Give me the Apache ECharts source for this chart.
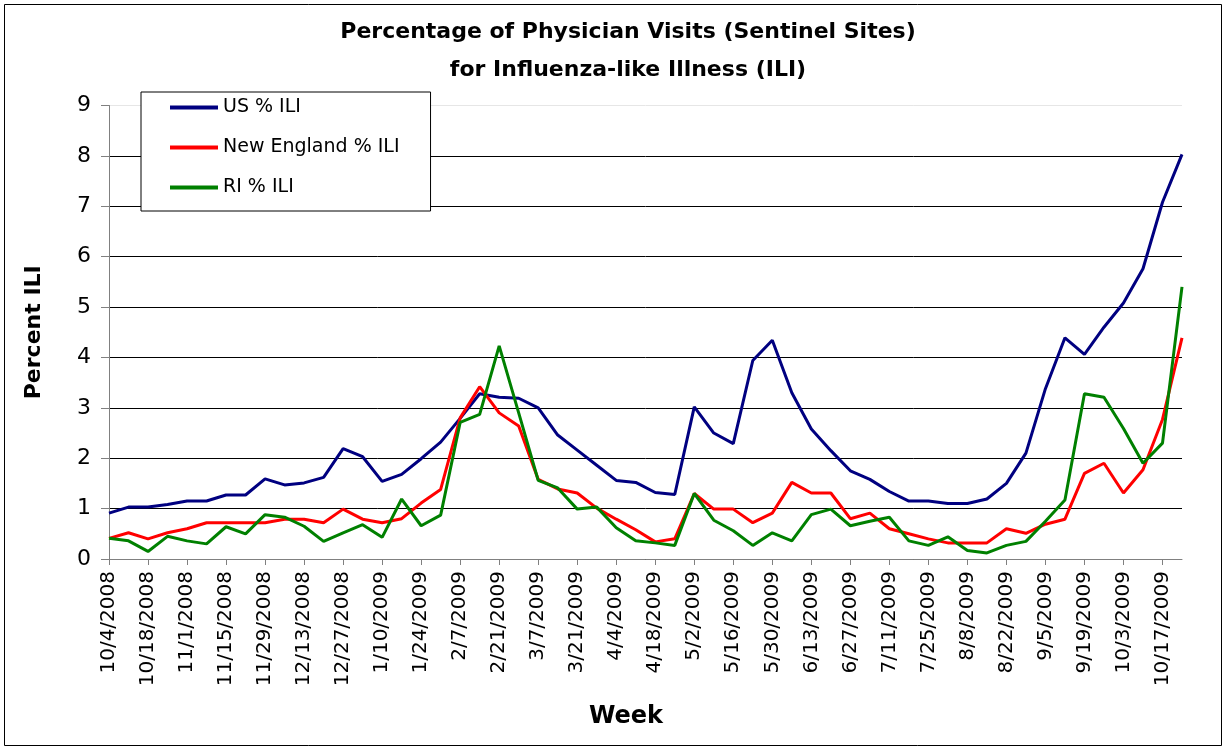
<!DOCTYPE html>
<html><head><meta charset="utf-8">
<script src="https://cdn.jsdelivr.net/npm/echarts@6/dist/echarts.min.js"></script>
<style>html,body{margin:0;padding:0;background:#fff}#c{width:1222px;height:746px}</style>
</head><body><div id="c"></div>
<script>
const weeks = ["10/4/2008","10/11/2008","10/18/2008","10/25/2008","11/1/2008","11/8/2008","11/15/2008","11/22/2008","11/29/2008","12/6/2008",
"12/13/2008","12/20/2008","12/27/2008","1/3/2009","1/10/2009","1/17/2009","1/24/2009","1/31/2009","2/7/2009","2/14/2009",
"2/21/2009","2/28/2009","3/7/2009","3/14/2009","3/21/2009","3/28/2009","4/4/2009","4/11/2009","4/18/2009","4/25/2009",
"5/2/2009","5/9/2009","5/16/2009","5/23/2009","5/30/2009","6/6/2009","6/13/2009","6/20/2009","6/27/2009","7/4/2009",
"7/11/2009","7/18/2009","7/25/2009","8/1/2009","8/8/2009","8/15/2009","8/22/2009","8/29/2009","9/5/2009","9/12/2009",
"9/19/2009","9/26/2009","10/3/2009","10/10/2009","10/17/2009","10/24/2009"];

const usILI = [0.91,1.03,1.03,1.08,1.15,1.15,1.27,1.27,1.59,1.47,
1.51,1.62,2.19,2.03,1.54,1.68,1.99,2.32,2.79,3.28,
3.21,3.19,3.00,2.46,2.16,1.86,1.56,1.52,1.32,1.28,
3.02,2.50,2.29,3.94,4.34,3.30,2.58,2.15,1.75,1.58,
1.34,1.15,1.15,1.10,1.10,1.19,1.50,2.10,3.38,4.39,
4.06,4.60,5.08,5.76,7.08,8.03];

const newEnglandILI = [0.41,0.52,0.40,0.52,0.60,0.72,0.72,0.72,0.72,0.79,
0.79,0.72,0.99,0.79,0.72,0.80,1.11,1.38,2.80,3.42,
2.90,2.64,1.58,1.39,1.31,1.01,0.79,0.58,0.34,0.40,
1.30,0.99,0.99,0.72,0.91,1.52,1.31,1.31,0.80,0.91,
0.60,0.50,0.40,0.32,0.32,0.32,0.60,0.51,0.69,0.79,
1.70,1.90,1.31,1.77,2.77,4.39];

const riILI = [0.41,0.36,0.15,0.45,0.36,0.30,0.64,0.50,0.88,0.83,
0.65,0.35,0.52,0.68,0.43,1.19,0.66,0.87,2.71,2.87,
4.23,2.90,1.56,1.41,0.99,1.03,0.62,0.36,0.32,0.27,
1.30,0.77,0.56,0.27,0.52,0.36,0.88,0.99,0.66,0.75,
0.83,0.36,0.27,0.44,0.17,0.12,0.27,0.35,0.75,1.17,
3.28,3.21,2.59,1.90,2.30,5.40];

const seriesNames = ["US % ILI", "New England % ILI", "RI % ILI"];
const seriesColors = ["#000080", "#FF0000", "#008000"];
const yMin = 0, yMax = 9, yStep = 1;

const chart = echarts.init(document.getElementById('c'), null, {renderer: 'canvas'});
const font = '"DejaVu Sans", "Liberation Sans", Arial, sans-serif';
const gridColors = [];
for (let v = yMin; v <= yMax; v += yStep) gridColors.push(v === yMax ? '#e6e6e6' : '#000');

const option = {
  animation: false,
  backgroundColor: '#fff',
  textStyle: {fontFamily: font, color: '#000'},
  title: {
    text: 'Percentage of Physician Visits (Sentinel Sites)\nfor Influenza-like Illness (ILI)',
    left: 628, top: 13, padding: 0, textAlign: 'center',
    textStyle: {fontFamily: font, fontSize: 22, fontWeight: 'bold', color: '#000', lineHeight: 38}
  },
  legend: {
    orient: 'vertical', left: 141, top: 92,
    backgroundColor: '#fff', borderColor: '#000', borderWidth: 1,
    padding: [6, 31, 14, 29], itemGap: 21, itemWidth: 48, itemHeight: 4, itemTextGap: 4,
    icon: 'rect',
    textStyle: {fontFamily: font, fontSize: 19, color: '#000'},
    data: seriesNames
  },
  grid: {left: 109, right: 40, top: 105.5, bottom: 187, containLabel: false},
  xAxis: {
    type: 'category', data: weeks, boundaryGap: false,
    name: 'Week', nameLocation: 'middle', nameGap: 146,
    nameTextStyle: {fontFamily: font, fontSize: 24, fontWeight: 'bold', color: '#000', padding: [0, 39, 0, 0]},
    axisLine: {lineStyle: {color: '#808080', width: 1}},
    axisTick: {show: true, interval: 1, length: 6, lineStyle: {color: '#808080'}},
    axisLabel: {interval: 1, rotate: 90, fontSize: 20, margin: 12, color: '#000', fontFamily: font},
    splitLine: {show: false}
  },
  yAxis: {
    type: 'value', min: yMin, max: yMax, interval: yStep,
    name: 'Percent ILI', nameLocation: 'middle', nameGap: 64,
    nameTextStyle: {fontFamily: font, fontSize: 22, fontWeight: 'bold', color: '#000'},
    axisLine: {show: true, lineStyle: {color: '#808080', width: 1}},
    axisTick: {show: true, length: 8, lineStyle: {color: '#808080'}},
    axisLabel: {fontSize: 22, margin: 18, color: '#000', fontFamily: font},
    splitLine: {show: true, lineStyle: {color: gridColors, width: 1}}
  },
  series: [
    {name: seriesNames[0], type: 'line', data: usILI, symbol: 'none', showSymbol: false,
     lineStyle: {width: 3, color: seriesColors[0]}, itemStyle: {color: seriesColors[0]}},
    {name: seriesNames[1], type: 'line', data: newEnglandILI, symbol: 'none', showSymbol: false,
     lineStyle: {width: 3, color: seriesColors[1]}, itemStyle: {color: seriesColors[1]}},
    {name: seriesNames[2], type: 'line', data: riILI, symbol: 'none', showSymbol: false,
     lineStyle: {width: 3, color: seriesColors[2]}, itemStyle: {color: seriesColors[2]}}
  ],
  graphic: [{
    type: 'rect', left: 2, top: 2, silent: true, z: -10,
    shape: {width: 1217, height: 741},
    style: {fill: null, stroke: '#000', lineWidth: 1}
  }]
};
chart.setOption(option);
</script>
</body></html>
